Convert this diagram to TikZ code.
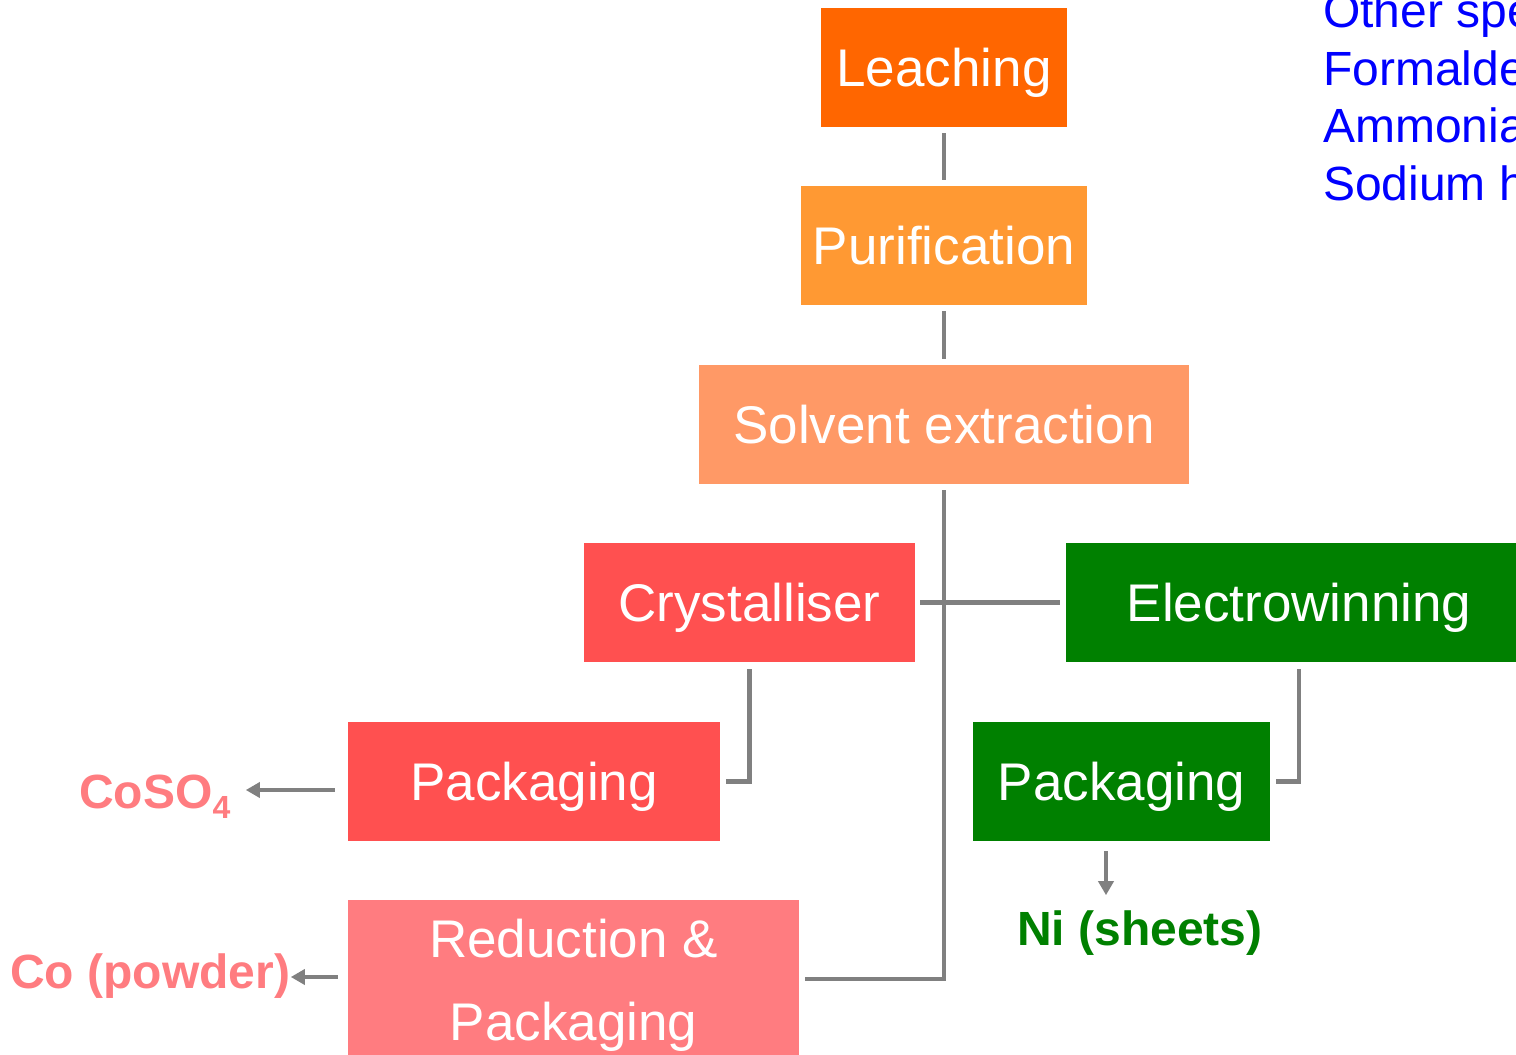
\documentclass[tikz,border=0pt]{standalone}
\usepackage{fontspec}
\setmainfont{Liberation Sans}
\usetikzlibrary{arrows.meta,calc}
\definecolor{cLeach}{HTML}{FF6600}
\definecolor{cPur}{HTML}{FF9933}
\definecolor{cSol}{HTML}{FF9966}
\definecolor{cCry}{HTML}{FF5050}
\definecolor{cRed}{HTML}{FF7C80}
\definecolor{cGreen}{HTML}{008000}
\definecolor{cGray}{HTML}{808080}
\definecolor{cBlue}{HTML}{0000FF}
\begin{document}
\begin{tikzpicture}[x=1pt,y=-1pt,
  box/.style={rectangle, inner sep=0pt, text=white, font=\fontsize{53}{64}\selectfont,
    text height=38pt, text depth=0pt, minimum height=119pt},
  conn/.style={draw=cGray, line width=4.5pt},
  arr/.style={conn, -{Triangle[length=14pt,width=15pt]}},
  prod/.style={font=\fontsize{48}{56}\selectfont\bfseries, inner sep=0pt},
  side/.style={font=\fontsize{48}{56}\selectfont, text=cBlue, inner sep=0pt, anchor=base west}
]
\useasboundingbox (0,0) rectangle (1516,1055);
\clip (0,0) rectangle (1516,1055);
% side text (cut off by the right edge, as in the reference)
\node[side] (s1) at (1323,27) {Other species:};
\node[side] (s2) at (1323,85) {Formaldehyde};
\node[side] (s3) at (1323,142) {Ammonia};
\node[side] (s4) at (1323,200) {Sodium hydroxide};
% boxes
\node[box, fill=cLeach, minimum width=246pt] (leach) at (944,67.5) {Leaching};
\node[box, fill=cPur, minimum width=286pt] (pur) at (944,245.5) {Purification};
\node[box, fill=cSol, minimum width=490pt] (sol) at (944,424.5) {Solvent extraction};
\node[box, fill=cCry, minimum width=331pt] (cry) at (749.5,602.5) {Crystalliser};
\node[box, fill=cGreen, minimum width=466pt] (elec) at (1299,602.5) {Electrowinning};
\node[box, fill=cCry, minimum width=372pt] (packr) at (534,781.5) {Packaging};
\node[box, fill=cGreen, minimum width=297pt] (packg) at (1121.5,781.5) {Packaging};
\node[fill=cRed, text=white, font=\fontsize{53}{83}\selectfont, align=center,
  inner xsep=0pt, inner ysep=18.5pt, minimum width=451pt, anchor=north] (red) at (573.5,900)
  {Reduction \&\\Packaging};
% products
\node[prod, text=cRed, anchor=base west] (coso) at (79,808)
  {CoSO\raisebox{-10pt}{\fontsize{32}{32}\selectfont 4}};
\node[prod, text=cRed, anchor=base west] (copow) at (10,988) {Co (powder)};
\node[prod, text=cGreen, anchor=base] (ni) at (1140,945) {Ni (sheets)};
% connectors
\draw[conn] ($(leach.south)+(0,6)$) -- ($(pur.north)+(0,-6)$);
\draw[conn] ($(pur.south)+(0,6)$) -- ($(sol.north)+(0,-6)$);
\draw[conn] ($(sol.south)+(0,6)$) |- ($(red.north east)+(6,79)$);
\draw[conn] ($(cry.east)+(5,0)$) -- ($(elec.west)+(-6,0)$);
\draw[conn] ($(cry.south)+(0,7)$) |- ($(packr.east)+(6,0)$);
\draw[conn] ($(elec.south)+(0,7)$) |- ($(packg.east)+(6,0)$);
\draw[arr] ($(packg.south)+(-15.5,10)$) -- ++(0,44);
\draw[arr] ($(packr.west)+(-13,8.5)$) -- ++(-89,0);
\draw[arr] ($(red.north west)+(-10,77)$) -- ++(-47,0);
\end{tikzpicture}
\end{document}
